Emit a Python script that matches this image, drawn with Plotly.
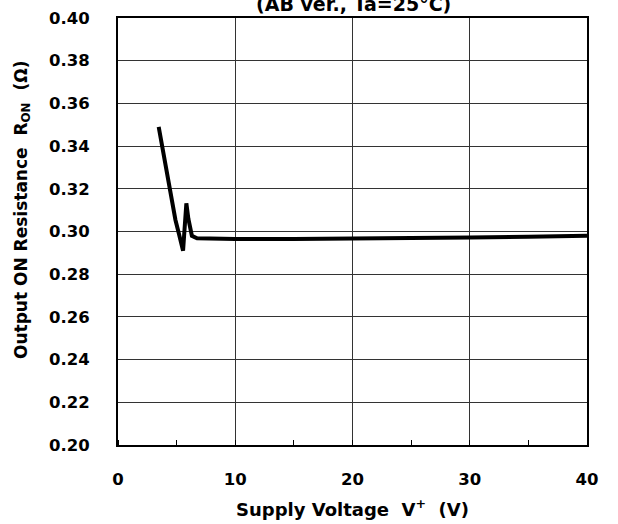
import plotly.graph_objects as go

# Data
supply_voltage = [3.47, 3.7, 3.9, 4.1, 4.33, 4.6, 4.9, 5.2, 5.55, 5.7, 5.83, 6.0, 6.3, 6.74,
                  8, 10, 15, 20, 25, 30, 35, 40]
on_resistance = [0.349, 0.342, 0.335, 0.328, 0.321, 0.3137, 0.3054, 0.2988, 0.291, 0.303, 0.3132,
                 0.306, 0.298, 0.2968, 0.2966, 0.2965, 0.2965, 0.2966, 0.2968, 0.2972, 0.2975, 0.298]

x_ticks = [0, 10, 20, 30, 40]
y_ticks = [0.20, 0.22, 0.24, 0.26, 0.28, 0.30, 0.32, 0.34, 0.36, 0.38, 0.40]
y_tick_labels = [f"{v:.2f}" for v in y_ticks]

FONT = "DejaVu Sans"
NB = "\u00a0"

fig = go.Figure()
fig.add_trace(go.Scatter(
    x=supply_voltage, y=on_resistance, mode="lines",
    line=dict(color="black", width=4), showlegend=False, hoverinfo="skip"))

fig.update_layout(
    width=618, height=524,
    margin=dict(l=118, r=31, t=18, b=79, autoexpand=False),
    paper_bgcolor="white", plot_bgcolor="white",
    font=dict(family=FONT, size=17, color="black", weight="bold"),
    showlegend=False,
)

fig.update_xaxes(
    range=[0, 40], tickvals=x_ticks, ticktext=[str(v) for v in x_ticks],
    ticks="", ticklabelstandoff=18, automargin=False,
    showgrid=True, gridcolor="#333333", gridwidth=1,
    showline=True, linecolor="black", linewidth=2, mirror=True,
    zeroline=False,
    minor=dict(dtick=5, ticks="inside", ticklen=5, tickcolor="black", tickwidth=1, showgrid=False),
    tickfont=dict(family=FONT, size=16.5, color="black", weight="bold"),
)
fig.update_yaxes(
    range=[0.20, 0.40], tickvals=y_ticks, ticktext=y_tick_labels,
    ticks="", ticklabelstandoff=23, automargin=False,
    showgrid=True, gridcolor="#333333", gridwidth=1,
    showline=True, linecolor="black", linewidth=2, mirror=True,
    zeroline=False,
    tickfont=dict(family=FONT, size=16.5, color="black", weight="bold"),
)

fig.add_annotation(
    text="(AB ver., Ta=25°C)", xref="paper", yref="paper", x=0.503, y=1.032,
    xanchor="center", yanchor="middle", showarrow=False,
    font=dict(family=FONT, size=19, color="black", weight="bold"))
fig.add_annotation(
    text=f"Supply Voltage{NB}{NB}V<sup>+</sup>{NB}{NB}(V)", xref="paper", yref="paper",
    x=0.5, y=-0.147, xanchor="center", yanchor="middle", showarrow=False,
    font=dict(family=FONT, size=18, color="black", weight="bold"))
fig.add_annotation(
    text=f"Output ON Resistance{NB}{NB}R<sub>ON</sub>{NB}{NB}(Ω)", xref="paper", yref="paper",
    x=-0.205, y=0.55, xanchor="center", yanchor="middle", textangle=-90, showarrow=False,
    font=dict(family=FONT, size=17, color="black", weight="bold"))

fig.write_html(
    "out.html",
    config={"displayModeBar": False},
    post_script="document.body.style.margin='0';document.body.style.padding='0';"
                "document.body.style.overflow='hidden';",
)
